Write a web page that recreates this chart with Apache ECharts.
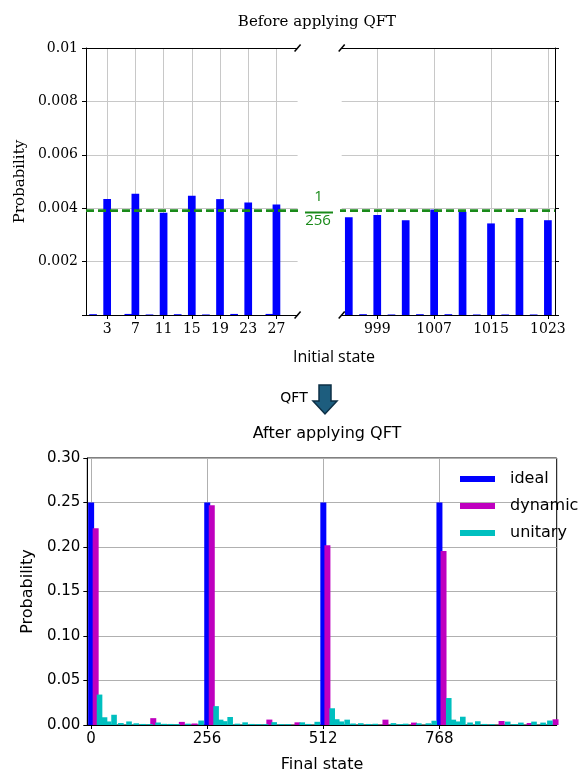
<!DOCTYPE html>
<html><head><meta charset="utf-8">
<script src="https://cdn.jsdelivr.net/npm/echarts@6/dist/echarts.min.js"></script>
<style>html,body{margin:0;padding:0;background:#fff}#c{width:583px;height:774px}</style>
</head><body><div id="c"></div>
<script>
// ---------- Top chart: before applying QFT ----------
const leftStates = [3, 7, 11, 15, 19, 23, 27];
const leftProbs = [0.00434, 0.00454, 0.00383, 0.00447, 0.00434, 0.00421, 0.00414];
const leftMinorStates = [1, 6, 9, 13, 17, 21, 26];
const leftMinorProbs = [0.00003, 0.00004, 0.00002, 0.00003, 0.00002, 0.00004, 0.00004];
const rightStates = [995, 999, 1003, 1007, 1011, 1015, 1019, 1023];
const rightProbs = [0.00366, 0.00375, 0.00355, 0.00395, 0.00387, 0.00343, 0.00363, 0.00355];
const rightMinorStates = [997, 1001, 1005, 1009, 1013, 1017, 1021];
const rightMinorProbs = [0.00003, 0.00002, 0.00003, 0.00003, 0.00002, 0.00002, 0.00002];
const uniformLevel = 1 / 256;
const leftTicks = [3, 7, 11, 15, 19, 23, 27];
const rightTicks = [999, 1007, 1015, 1023];

// ---------- Bottom chart: after applying QFT ----------
const idealStates = [0, 256, 512, 768];
const idealProbs = [0.25, 0.25, 0.25, 0.25];
const dynamicStates = [10, 137, 200, 228, 266, 393, 455, 521, 649, 712, 777, 905, 967, 1024];
const dynamicProbs = [0.221, 0.0077, 0.0035, 0.0017, 0.247, 0.0061, 0.0030, 0.202, 0.0060, 0.0027, 0.1955, 0.0045, 0.0022, 0.0064];
const unitaryStates = [19, 30, 39, 51, 66, 84, 100, 115, 130, 148, 162, 176, 190, 214, 243,
  276, 286, 295, 307, 323, 340, 355, 370, 385, 404, 420, 435, 466, 480, 499,
  532, 542, 552, 565, 578, 595, 612, 627, 667, 682, 694, 723, 744, 757,
  789, 799, 808, 820, 836, 853, 868, 884, 919, 934, 948, 977, 997, 1012];
const unitaryProbs = [0.0342, 0.0087, 0.0040, 0.0115, 0.0022, 0.0040, 0.0019, 0.0012, 0.0010, 0.0028, 0.0013, 0.0012, 0.0010, 0.0015, 0.0050,
  0.0212, 0.0060, 0.0043, 0.0090, 0.0015, 0.0030, 0.0012, 0.0010, 0.0010, 0.0032, 0.0010, 0.0010, 0.0030, 0.0012, 0.0036,
  0.0188, 0.0065, 0.0040, 0.0060, 0.0017, 0.0020, 0.0012, 0.0014, 0.0021, 0.0010, 0.0015, 0.0019, 0.0019, 0.0048,
  0.0303, 0.0060, 0.0040, 0.0093, 0.0028, 0.0042, 0.0012, 0.0010, 0.0038, 0.0010, 0.0027, 0.0038, 0.0027, 0.0050];
const bottomXTicks = [0, 256, 512, 768];

const zip = (xs, ys) => xs.map((x, i) => [x, ys[i]]);

const SERIF = 'DejaVu Serif';
const SANS = 'DejaVu Sans';
const GREEN = '#1a8a1a';
const BLUE = '#0000ff', MAGENTA = '#bf00bf', CYAN = '#00bfbf';

const topGridLine = { show: true, lineStyle: { color: '#c8c8c8', width: 1 } };
const botGridLine = { show: true, lineStyle: { color: '#b0b0b0', width: 1 } };
const blackLine = { show: true, onZero: false, lineStyle: { color: '#000', width: 1 } };

const chart = echarts.init(document.getElementById('c'));
chart.setOption({
  animation: false,
  backgroundColor: '#fff',
  title: [
    { text: 'Before applying QFT', left: 312, top: 10, textAlign: 'center',
      textStyle: { fontFamily: SERIF, fontSize: 15, fontWeight: 'normal', color: '#000' } },
    { text: 'After applying QFT', left: 322, top: 421, textAlign: 'center',
      textStyle: { fontFamily: SANS, fontSize: 16, fontWeight: 'normal', color: '#000' } }
  ],
  grid: [
    { left: 86, top: 48, width: 211.6, height: 267 },
    { left: 341.7, top: 48, width: 213.3, height: 267 },
    { left: 86, top: 48, width: 469, height: 267 },
    { left: 87.3, top: 458, width: 469.4, height: 267, show: true, borderColor: '#000', borderWidth: 1, backgroundColor: 'transparent' }
  ],
  xAxis: [
    { gridIndex: 0, type: 'value', min: 0, max: 30, position: 'bottom',
      axisLine: blackLine,
      axisTick: { show: true, customValues: leftTicks, length: 4, lineStyle: { color: '#000' } },
      axisLabel: { customValues: leftTicks, color: '#000', fontFamily: SERIF, fontSize: 14, margin: 7, formatter: v => String(v) },
      splitLine: topGridLine },
    { gridIndex: 1, type: 'value', min: 994, max: 1024, position: 'bottom',
      axisLine: blackLine,
      axisTick: { show: true, customValues: rightTicks, length: 4, lineStyle: { color: '#000' } },
      axisLabel: { customValues: rightTicks, color: '#000', fontFamily: SERIF, fontSize: 14, margin: 7, formatter: v => String(v) },
      splitLine: topGridLine },
    { gridIndex: 2, type: 'value', min: 0, max: 1, show: false },
    { gridIndex: 3, type: 'value', min: -8, max: 1027, position: 'bottom',
      axisLine: blackLine,
      axisTick: { show: true, customValues: bottomXTicks, length: 4, lineStyle: { color: '#000' } },
      axisLabel: { customValues: bottomXTicks, color: '#000', fontFamily: SANS, fontSize: 15, margin: 7, formatter: v => String(v) },
      splitLine: botGridLine,
      name: 'Final state', nameLocation: 'middle', nameGap: 32,
      nameTextStyle: { fontFamily: SANS, fontSize: 16, color: '#000' } },
    { gridIndex: 0, type: 'value', min: 0, max: 30, position: 'top',
      axisLine: blackLine, axisTick: { show: false }, axisLabel: { show: false }, splitLine: { show: false } },
    { gridIndex: 1, type: 'value', min: 994, max: 1024, position: 'top',
      axisLine: blackLine, axisTick: { show: false }, axisLabel: { show: false }, splitLine: { show: false } }
  ],
  yAxis: [
    { gridIndex: 0, type: 'value', min: 0, max: 0.01, interval: 0.002, position: 'left',
      axisLine: blackLine,
      axisTick: { show: true, length: 4, lineStyle: { color: '#000' } },
      axisLabel: { color: '#000', fontFamily: SERIF, fontSize: 14, margin: 8,
        formatter: v => v === 0 ? '' : String(parseFloat(v.toFixed(3))) },
      splitLine: topGridLine,
      name: 'Probability', nameLocation: 'middle', nameGap: 58, nameRotate: 90,
      nameTextStyle: { fontFamily: SERIF, fontSize: 15, color: '#000' } },
    { gridIndex: 1, type: 'value', min: 0, max: 0.01, interval: 0.002, position: 'right',
      axisLine: blackLine,
      axisTick: { show: true, length: 4, lineStyle: { color: '#000' } },
      axisLabel: { show: false },
      splitLine: topGridLine },
    { gridIndex: 2, type: 'value', min: 0, max: 0.01, show: false },
    { gridIndex: 3, type: 'value', min: 0, max: 0.3, interval: 0.05, position: 'left',
      axisLine: blackLine,
      axisTick: { show: true, length: 4, lineStyle: { color: '#000' } },
      axisLabel: { color: '#000', fontFamily: SANS, fontSize: 15, margin: 7, formatter: v => v.toFixed(2) },
      splitLine: botGridLine,
      name: 'Probability', nameLocation: 'middle', nameGap: 49, nameRotate: 90,
      nameTextStyle: { fontFamily: SANS, fontSize: 16, color: '#000' } }
  ],
  legend: {
    data: ['ideal', 'dynamic', 'unitary'],
    left: 455, top: 466, orient: 'vertical',
    itemWidth: 35, itemHeight: 6, itemGap: 11, icon: 'rect',
    textStyle: { fontFamily: SANS, fontSize: 16, color: '#000', padding: [0, 0, 0, 10] }
  },
  series: [
    { type: 'bar', xAxisIndex: 0, yAxisIndex: 0, barWidth: 7.7, barGap: '-100%',
      itemStyle: { color: BLUE }, data: zip(leftStates, leftProbs).concat(zip(leftMinorStates, leftMinorProbs)) },
    { type: 'bar', xAxisIndex: 1, yAxisIndex: 1, barWidth: 7.7, barGap: '-100%',
      itemStyle: { color: BLUE }, data: zip(rightStates, rightProbs).concat(zip(rightMinorStates, rightMinorProbs)) },
    { type: 'line', xAxisIndex: 2, yAxisIndex: 2, symbol: 'none', z: 5,
      lineStyle: { color: GREEN, width: 2.8, type: [8, 4] },
      data: [[0, uniformLevel], [1, uniformLevel]] },
    { name: 'ideal', type: 'bar', xAxisIndex: 3, yAxisIndex: 3, barWidth: 6, barGap: '-100%',
      itemStyle: { color: BLUE }, data: zip(idealStates, idealProbs) },
    { name: 'dynamic', type: 'bar', xAxisIndex: 3, yAxisIndex: 3, barWidth: 6, barGap: '-100%',
      itemStyle: { color: MAGENTA }, data: zip(dynamicStates, dynamicProbs) },
    { name: 'unitary', type: 'bar', xAxisIndex: 3, yAxisIndex: 3, barWidth: 5.6, barGap: '-100%',
      itemStyle: { color: CYAN }, data: zip(unitaryStates, unitaryProbs) }
  ],
  graphic: [
    // axis-break marks
    { type: 'line', shape: { x1: 294.6, y1: 51.5, x2: 300.6, y2: 44.5 }, style: { stroke: '#000', lineWidth: 1.5 }, z: 10 },
    { type: 'line', shape: { x1: 294.6, y1: 318.5, x2: 300.6, y2: 311.5 }, style: { stroke: '#000', lineWidth: 1.5 }, z: 10 },
    { type: 'line', shape: { x1: 338.7, y1: 51.5, x2: 344.7, y2: 44.5 }, style: { stroke: '#000', lineWidth: 1.5 }, z: 10 },
    { type: 'line', shape: { x1: 338.7, y1: 318.5, x2: 344.7, y2: 311.5 }, style: { stroke: '#000', lineWidth: 1.5 }, z: 10 },
    // 1/256 label
    { type: 'rect', shape: { x: 301, y: 206, width: 39, height: 11 }, style: { fill: '#fff' }, z: 20 },
    { type: 'line', shape: { x1: 305, y1: 212.5, x2: 333, y2: 212.5 }, style: { stroke: GREEN, lineWidth: 2 }, z: 21 },
    { type: 'text', x: 318.5, y: 197, z: 21, style: { text: '1', fill: GREEN, font: '15px "Open Sans"', align: 'center', verticalAlign: 'middle' } },
    { type: 'text', x: 318, y: 221, z: 21, style: { text: '256', fill: GREEN, font: '15px "Open Sans"', align: 'center', verticalAlign: 'middle' } },
    // x label of top chart
    { type: 'text', x: 334, y: 357, style: { text: 'Initial state', fill: '#000', font: '16px "Open Sans"', align: 'center', verticalAlign: 'middle' } },
    // QFT arrow
    { type: 'text', x: 294, y: 398, style: { text: 'QFT', fill: '#000', font: '14px "DejaVu Sans"', align: 'center', verticalAlign: 'middle' } },
    { type: 'polygon', shape: { points: [[319, 385], [331, 385], [331, 401], [337, 401], [325, 414], [313, 401], [319, 401]] },
      style: { fill: '#1d5d7e', stroke: '#0d2f45', lineWidth: 1.5 } }
  ]
});
</script>
</body></html>
